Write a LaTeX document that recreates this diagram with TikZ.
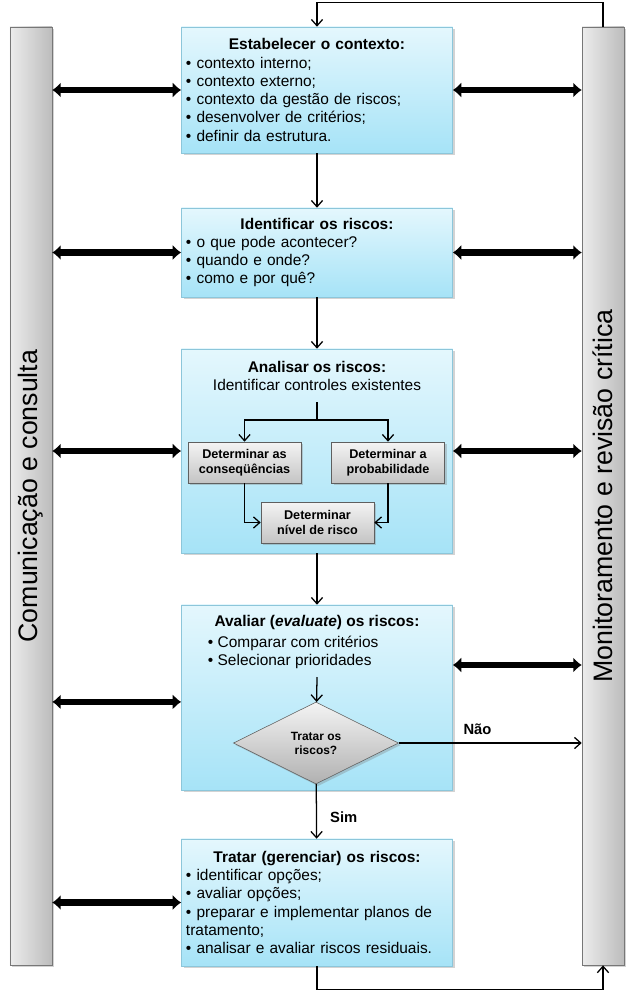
\documentclass[tikz,border=0pt]{standalone}
\usepackage{fontspec}
\setmainfont{Liberation Sans}
\usetikzlibrary{arrows.meta,shapes.geometric,shadows}
\definecolor{boxtop}{HTML}{E4F7FD}
\definecolor{boxbot}{HTML}{A6E3F7}
\definecolor{boxline}{HTML}{8CC6DA}
\definecolor{barlight}{HTML}{ECECEC}
\definecolor{bardark}{HTML}{BCBCBC}
\definecolor{barline}{HTML}{777777}
\definecolor{subtop}{HTML}{F4F4F4}
\definecolor{subbot}{HTML}{C4C4C4}
\tikzset{
  shadowed/.style={drop shadow={shadow xshift=1.5pt,shadow yshift=-1.5pt,opacity=0.35}},
  stagebox/.style={draw=boxline,top color=boxtop,bottom color=boxbot,shadowed,
    minimum width=6.775cm,text width=6.55cm,inner xsep=0.1125cm,inner ysep=0pt,
    font=\fontsize{11}{13}\selectfont},
  sidebar/.style={draw=barline,left color=barlight,right color=bardark,shadowed,
    minimum width=1.05cm,minimum height=23.45cm,inner sep=0pt},
  subbox/.style={draw=barline!80!black,top color=subtop,bottom color=subbot,shadowed,
    minimum width=2.825cm,minimum height=1.025cm,inner sep=1pt,align=center,
    font=\bfseries\fontsize{9}{10.5}\selectfont},
  decision/.style={diamond,aspect=2,draw=barline!80!black,top color=subtop,bottom color=subbot!90!black,
    shadowed,minimum width=4.125cm,minimum height=2.05cm,inner sep=0pt,align=center,
    font=\bfseries\fontsize{8.5}{10}\selectfont},
  flow/.style={line width=0.9pt,-{Straight Barb[length=4.5pt,width=8pt]}},
  dbl/.style={line width=4.3pt,{Latex[length=6pt,width=11pt]}-{Latex[length=6pt,width=11pt]}},
}
\begin{document}
\begin{tikzpicture}[x=0.025cm,y=-0.025cm]
\useasboundingbox (0,0) rectangle (632,993);

\node[sidebar,label={[rotate=90,font=\fontsize{19}{22}\selectfont]center:Comunicação e consulta}] (lbar) at (31,496) {};
\node[sidebar,label={[rotate=90,font=\fontsize{19}{22}\selectfont]center:Monitoramento e revisão crítica}] (rbar) at (603,496) {};

\node[stagebox,minimum height=3.15cm] (box1) at (317,90) {\centering\textbf{Estabelecer o contexto:}\par\raggedright
  • contexto interno;\\ • contexto externo;\\ • contexto da gestão de riscos;\\ • desenvolver de critérios;\\ • definir da estrutura.\par};
\node[stagebox,minimum height=2.225cm] (box2) at (317,252.5) {\centering\textbf{Identificar os riscos:}\par\raggedright
  • o que pode acontecer?\\ • quando e onde?\\ • como e por quê?\par};
\node[stagebox,minimum height=5.1cm] (box3) at (317,451) {};
\node[stagebox,minimum height=4.625cm] (box4) at (317,697.5) {};
\node[stagebox,minimum height=3.175cm] (box5) at (317,902.5) {\centering\textbf{Tratar (gerenciar) os riscos:}\par\raggedright
  • identificar opções;\\ • avaliar opções;\\ • preparar e implementar planos de\\ tratamento;\\ • analisar e avaliar riscos residuais.\par};

\node[align=center,font=\fontsize{11}{13}\selectfont] (ctrl) at (317,376) {\textbf{Analisar os riscos:}\\ Identificar controles existentes};
\node[subbox] (conseq) at (244.5,462.5) {Determinar as\\conseqüências};
\node[subbox] (prob) at (388,462.5) {Determinar a\\probabilidade};
\node[subbox] (nivel) at (317.5,522.5) {Determinar\\nível de risco};
\coordinate (ctrlend) at (317,402);
\coordinate (split) at (317,420);
\draw[line width=0.9pt] (ctrlend) -- (split);
\draw[flow] (split) -| (conseq);
\draw[flow] (split) -| (prob);
\draw[flow] (conseq) |- (nivel);
\draw[flow] (prob) |- (nivel);

\node[font=\bfseries\fontsize{11}{13}\selectfont] (evaltitle) at (317,622) {Avaliar (\textit{evaluate}) os riscos:};
\node[anchor=west,align=left,font=\fontsize{11}{13}\selectfont] (crit) at (203,652.5) {• Comparar com critérios\\ • Selecionar prioridades};
\node[decision] (dec) at (316,743) {Tratar os\\riscos?};
\coordinate (critend) at (317,677);
\draw[flow] (critend) -- (dec);

\draw[flow] (box1) -- (box2);
\draw[flow] (box2) -- (box3);
\draw[flow] (box3) -- (box4);
\draw[flow] (dec) -- (box5) node[pos=0.6,right=6pt,font=\bfseries\fontsize{10.5}{12}\selectfont] {Sim};
\draw[flow] (dec) -- (dec -| rbar.west) node[pos=0.43,above=2pt,font=\bfseries\fontsize{10.5}{12}\selectfont] {Não};
\draw[flow] (rbar.north) -- ++(0,-24) -| (box1.north);
\draw[flow] (box5.south) -- ++(0,23) -| (rbar.south);

\draw[dbl] (lbar.east |- box1) -- (box1);
\draw[dbl] (lbar.east |- box2) -- (box2);
\draw[dbl] (lbar.east |- box3) -- (box3);
\draw[dbl] ([yshift=-0.11cm]box4.west -| lbar.east) -- ([yshift=-0.11cm]box4.west);
\draw[dbl] (lbar.east |- box5) -- (box5);
\draw[dbl] (box1) -- (box1 -| rbar.west);
\draw[dbl] (box2) -- (box2 -| rbar.west);
\draw[dbl] (box3) -- (box3 -| rbar.west);
\draw[dbl] ([yshift=0.8125cm]box4.east) -- ([yshift=0.8125cm]box4.east -| rbar.west);
\end{tikzpicture}
\end{document}
